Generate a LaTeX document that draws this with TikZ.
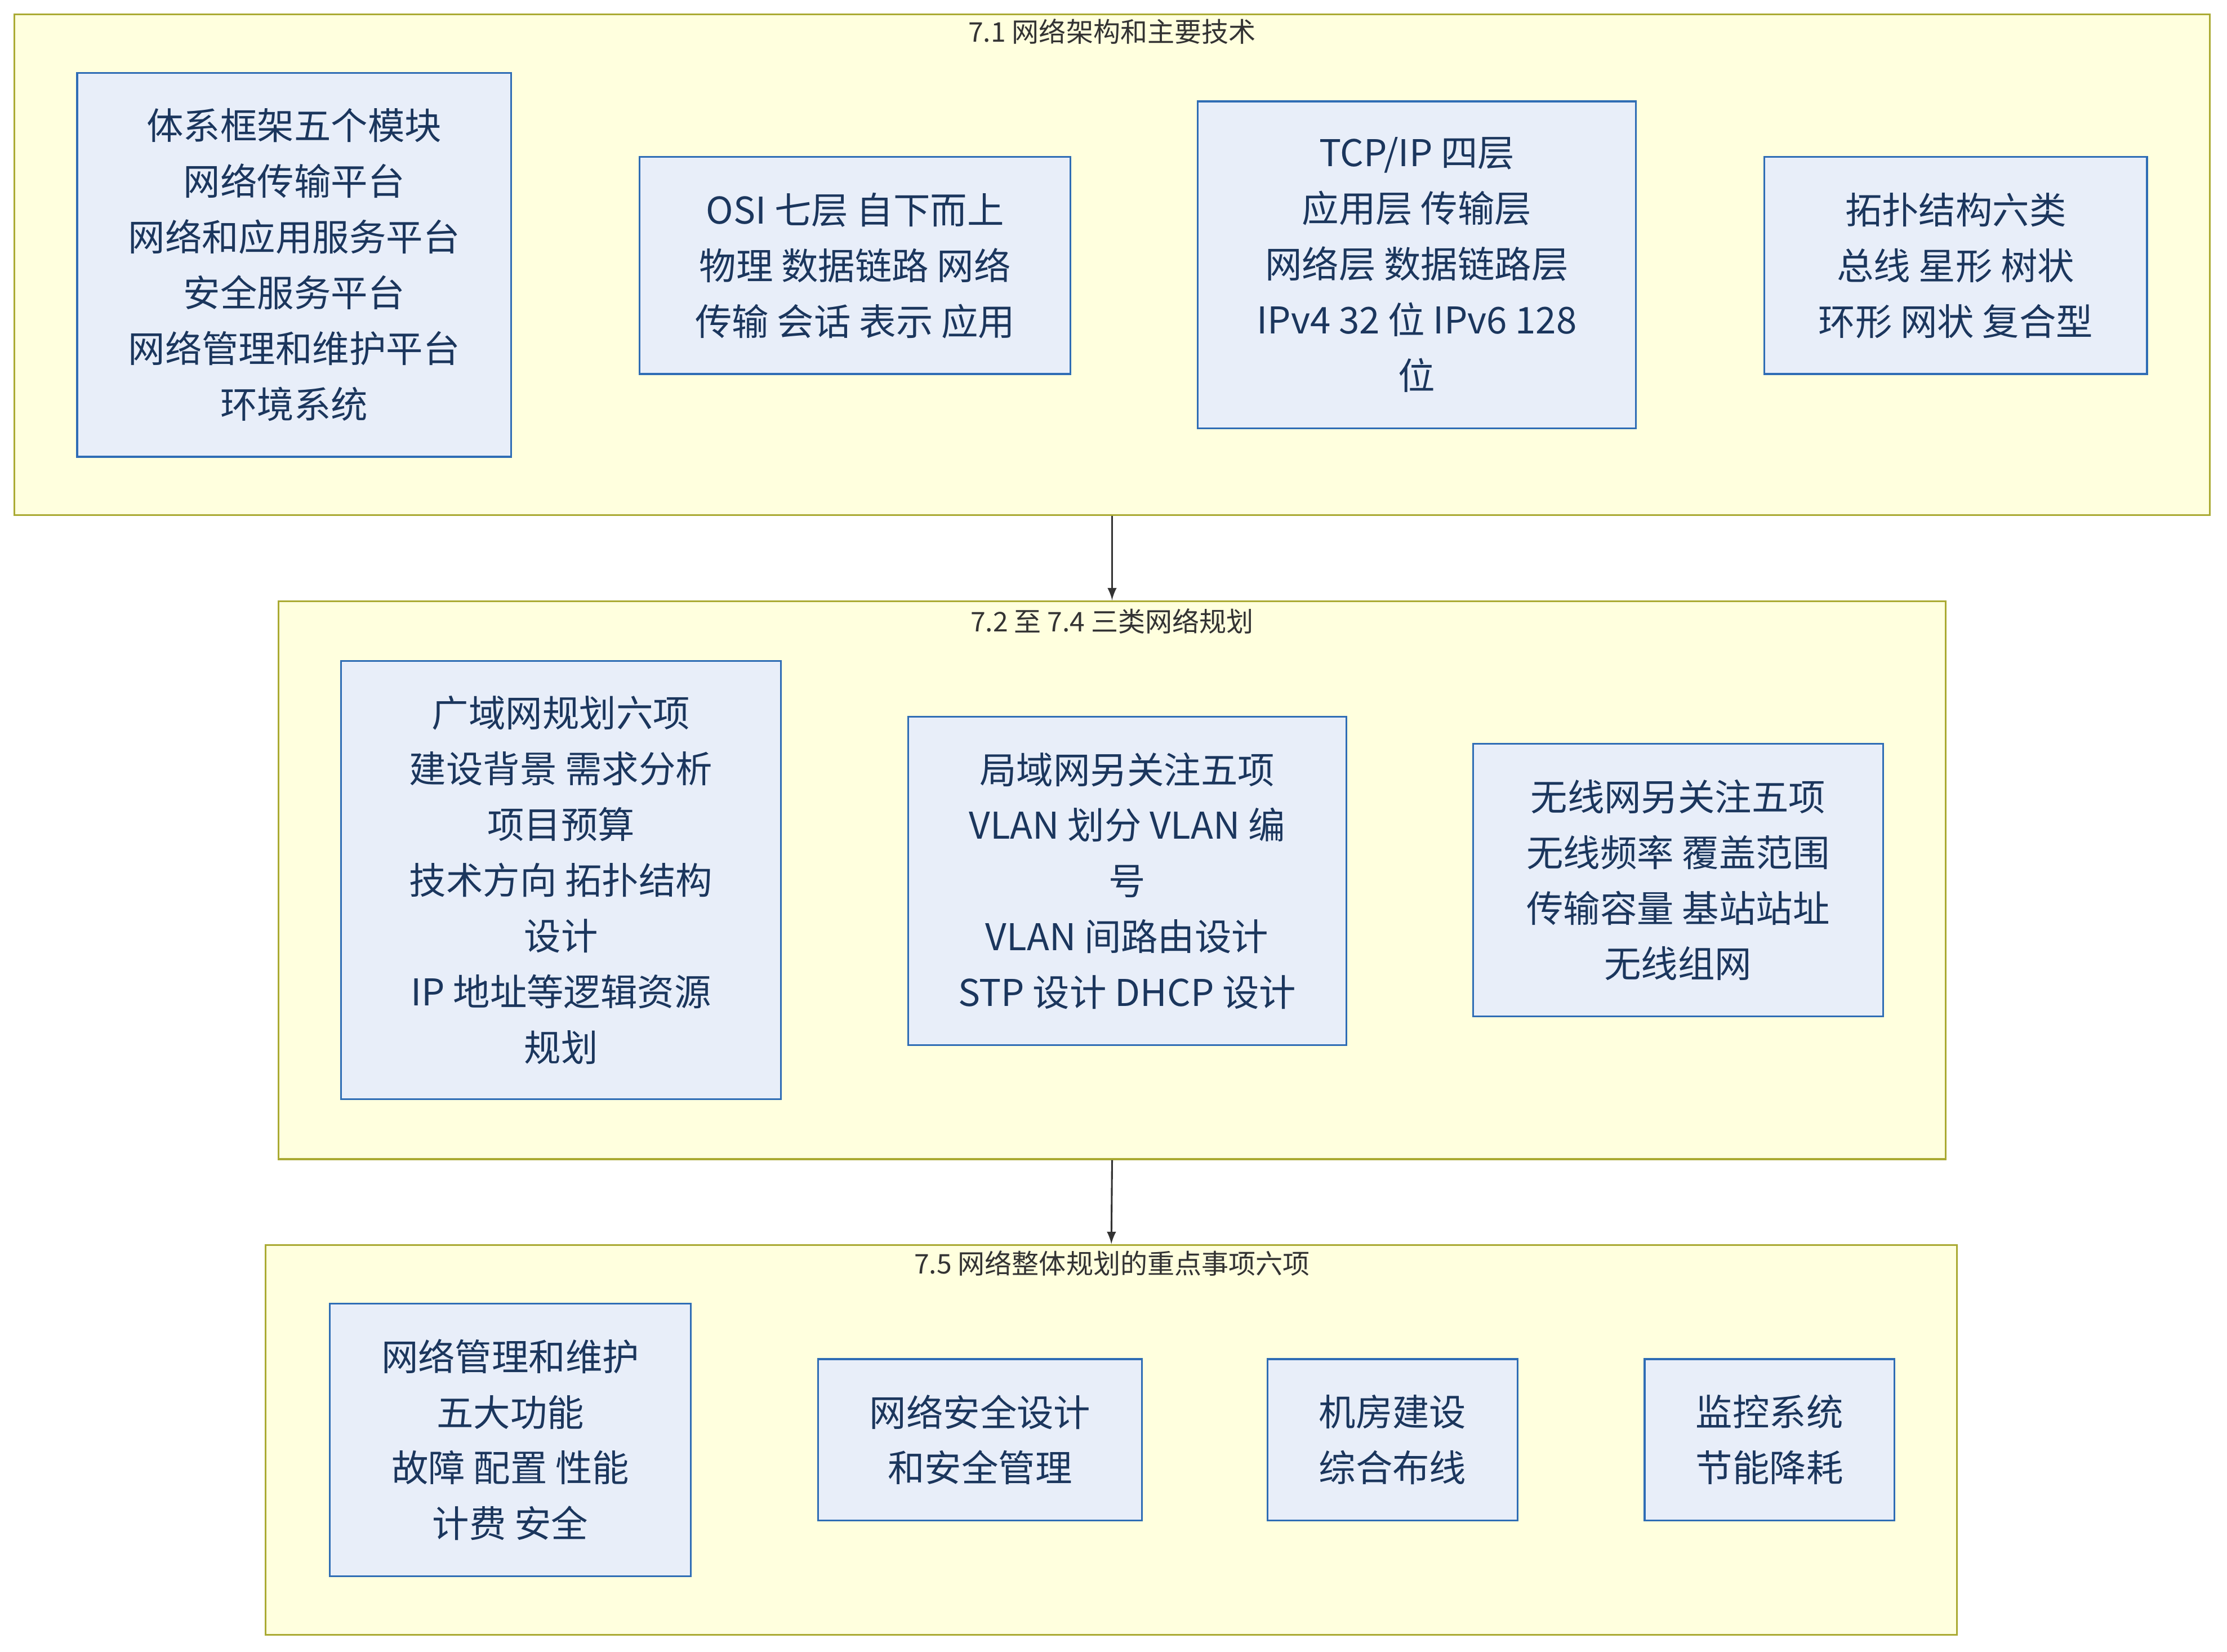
\documentclass[tikz,border=0pt]{standalone}
\usepackage{fontspec}
\setmainfont{Noto Sans CJK SC}
\definecolor{clfill}{HTML}{FFFFDE}
\definecolor{cldraw}{HTML}{AAAA33}
\definecolor{bxfill}{HTML}{E8EEF9}
\definecolor{bxdraw}{HTML}{2F6DB5}
\definecolor{bxtext}{HTML}{1B365D}
\tikzset{
  cluster/.style={draw=cldraw, fill=clfill, line width=0.7pt},
  box/.style={draw=bxdraw, fill=bxfill, line width=0.7pt, align=center,
    text=bxtext, font=\fontsize{14.7}{22.2}\selectfont},
  title/.style={text=black!80, font=\fontsize{10.8}{12}\selectfont},
  flow/.style={-latex, line width=0.7pt, black!80},
}
\begin{document}
\begin{tikzpicture}[x=0.02cm, y=-0.02cm]
    \useasboundingbox (0,0) rectangle (1560,1157);
    % clusters
    \node[cluster, minimum width=30.76cm, minimum height=7.02cm] (arch) at (779,185.5) {};
    \node[cluster, minimum width=23.36cm, minimum height=7.82cm] (plan) at (779,616.5) {};
    \node[cluster, minimum width=23.70cm, minimum height=5.46cm] (keys) at (778.5,1008.5) {};
    \node[title] (archT) at (779,22) {7.1 网络架构和主要技术};
    \node[title] (planT) at (779,435) {7.2 至 7.4 三类网络规划};
    \node[title] (keysT) at (779,885) {7.5 网络整体规划的重点事项六项};
    % 7.1
    \node[box, minimum width=6.08cm, minimum height=5.38cm] (frame) at (206,185.5)
      {体系框架五个模块\\网络传输平台\\网络和应用服务平台\\安全服务平台\\网络管理和维护平台\\环境系统};
    \node[box, minimum width=6.04cm, minimum height=3.04cm] (osi) at (599,186)
      {OSI 七层 自下而上\\物理 数据链路 网络\\传输 会话 表示 应用};
    \node[box, minimum width=6.14cm, minimum height=4.58cm] (tcpip) at (992.5,185.5)
      {TCP/IP 四层\\应用层 传输层\\网络层 数据链路层\\IPv4 32 位 IPv6 128\\位};
    \node[box, minimum width=5.36cm, minimum height=3.04cm] (topo) at (1370,186)
      {拓扑结构六类\\总线 星形 树状\\环形 网状 复合型};
    % 7.2 - 7.4
    \node[box, minimum width=6.16cm, minimum height=6.14cm] (wan) at (393,616.5)
      {广域网规划六项\\建设背景 需求分析\\项目预算\\技术方向 拓扑结构\\设计\\IP 地址等逻辑资源\\规划};
    \node[box, minimum width=6.14cm, minimum height=4.60cm] (lan) at (789.5,617)
      {局域网另关注五项\\VLAN 划分 VLAN 编\\号\\VLAN 间路由设计\\STP 设计 DHCP 设计};
    \node[box, minimum width=5.74cm, minimum height=3.82cm] (wlan) at (1175.5,616.5)
      {无线网另关注五项\\无线频率 覆盖范围\\传输容量 基站站址\\无线组网};
    % 7.5
    \node[box, minimum width=5.06cm, minimum height=3.82cm] (mgmt) at (357.5,1008.5)
      {网络管理和维护\\五大功能\\故障 配置 性能\\计费 安全};
    \node[box, minimum width=4.54cm, minimum height=2.26cm] (sec) at (686.5,1008.5)
      {网络安全设计\\和安全管理};
    \node[box, minimum width=3.50cm, minimum height=2.26cm] (room) at (975.5,1008.5)
      {机房建设\\综合布线};
    \node[box, minimum width=3.50cm, minimum height=2.26cm] (mon) at (1239.5,1008.5)
      {监控系统\\节能降耗};
    \draw[flow] (arch.south) -- (plan.north);
    \draw[flow] (plan.south) -- (keys.north);
\end{tikzpicture}
\end{document}
